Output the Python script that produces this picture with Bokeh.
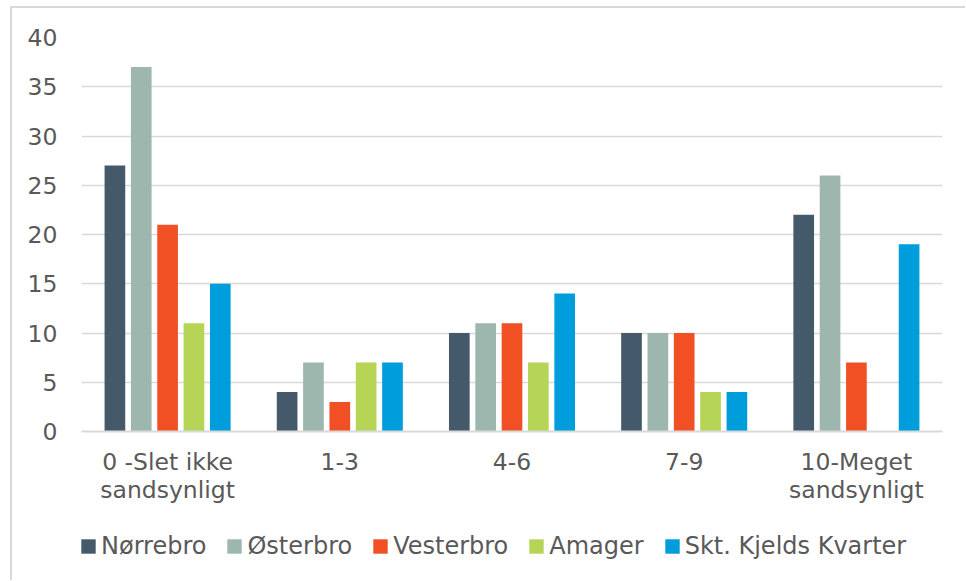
from bokeh.plotting import figure
from bokeh.layouts import column
from bokeh.models import FactorRange, FixedTicker, Legend, LegendItem, ColumnDataSource
from bokeh.transform import dodge
from bokeh.embed import file_html
from bokeh.resources import INLINE

categories = ["0 -Slet ikke\nsandsynligt", "1-3", "4-6", "7-9", "10-Meget\nsandsynligt"]
series_names = ["Nørrebro", "Østerbro", "Vesterbro", "Amager", "Skt. Kjelds Kvarter"]
norrebro = [27, 4, 10, 10, 22]
osterbro = [37, 7, 11, 10, 26]
vesterbro = [21, 3, 11, 10, 7]
amager = [11, 7, 7, 4, 0]
skt_kjelds = [15, 7, 14, 4, 19]
y_ticks = [0, 5, 10, 15, 20, 25, 30, 35, 40]

colors = ["#44596A", "#9DB7AE", "#F05023", "#B6D456", "#009DDC"]
series_values = [norrebro, osterbro, vesterbro, amager, skt_kjelds]

FONT = "DejaVu Sans"
TXT = "#595959"

W = 953
H1, H2 = 512, 60
p = figure(
    x_range=FactorRange(factors=categories, range_padding=0),
    y_range=(0, 40),
    width=W, height=H1,
    output_backend="svg", toolbar_location=None,
    min_border_left=69, min_border_right=23,
    min_border_top=29, min_border_bottom=89,
)
p.outline_line_color = None
p.background_fill_color = "white"

data = {"cat": categories}
for name, vals in zip(series_names, series_values):
    data[name] = vals
src = ColumnDataSource(data)

step = 0.153
for i, (name, col) in enumerate(zip(series_names, colors)):
    p.vbar(x=dodge("cat", (i - 2) * step, range=p.x_range), top=name, width=0.12,
           source=src, fill_color=col, line_color=None)

p.xgrid.grid_line_color = None
p.ygrid.grid_line_color = "#d9d9d9"
p.ygrid.grid_line_width = 1.5

p.yaxis.ticker = FixedTicker(ticks=y_ticks)
p.yaxis.axis_line_color = None
p.yaxis.major_tick_line_color = None
p.yaxis.minor_tick_line_color = None
p.yaxis.major_tick_out = 0
p.yaxis.major_tick_in = 0
p.yaxis.major_label_standoff = 24
p.yaxis.major_label_text_font = FONT
p.yaxis.major_label_text_font_size = "23.5px"
p.yaxis.major_label_text_color = TXT

p.xaxis.axis_line_color = "#d9d9d9"
p.xaxis.axis_line_width = 2
p.xaxis.major_tick_line_color = None
p.xaxis.minor_tick_line_color = None
p.xaxis.major_tick_out = 0
p.xaxis.major_tick_in = 0
p.xaxis.major_label_standoff = 16
p.xaxis.major_label_text_font = FONT
p.xaxis.major_label_text_font_size = "23.5px"
p.xaxis.major_label_text_color = TXT
p.xaxis.major_label_text_line_height = 1.0

# legend strip (swatch glyphs kept outside the visible range; only the legend shows)
p2 = figure(
    x_range=(0, 1), y_range=(0, 1), width=W, height=H2,
    output_backend="svg", toolbar_location=None,
    x_axis_type=None, y_axis_type=None,
    min_border_left=69, min_border_right=23, min_border_top=0, min_border_bottom=0,
)
p2.outline_line_color = None
p2.xgrid.grid_line_color = None
p2.ygrid.grid_line_color = None
leg_renderers = []
for col in colors:
    leg_renderers.append(p2.vbar(x=[-5], top=[-5], width=0.1, fill_color=col, line_color=None))

legend = Legend(
    items=[LegendItem(label=n, renderers=[r], index=0) for n, r in zip(series_names, leg_renderers)],
    orientation="horizontal",
    location=(-2, 20),
    glyph_width=18, glyph_height=18,
    label_standoff=4, spacing=19,
    padding=0, margin=0,
    border_line_color=None, background_fill_alpha=0,
    label_text_font=FONT, label_text_font_size="24px", label_text_color=TXT,
)
p2.add_layout(legend, "center")

lay = column(p, p2, spacing=0)
lay.styles = {"margin-left": "10px", "margin-top": "6px",
              "border-left": "2px solid #d9d9d9", "border-top": "2px solid #d9d9d9"}

open("out.html", "w").write(file_html(lay, INLINE))
